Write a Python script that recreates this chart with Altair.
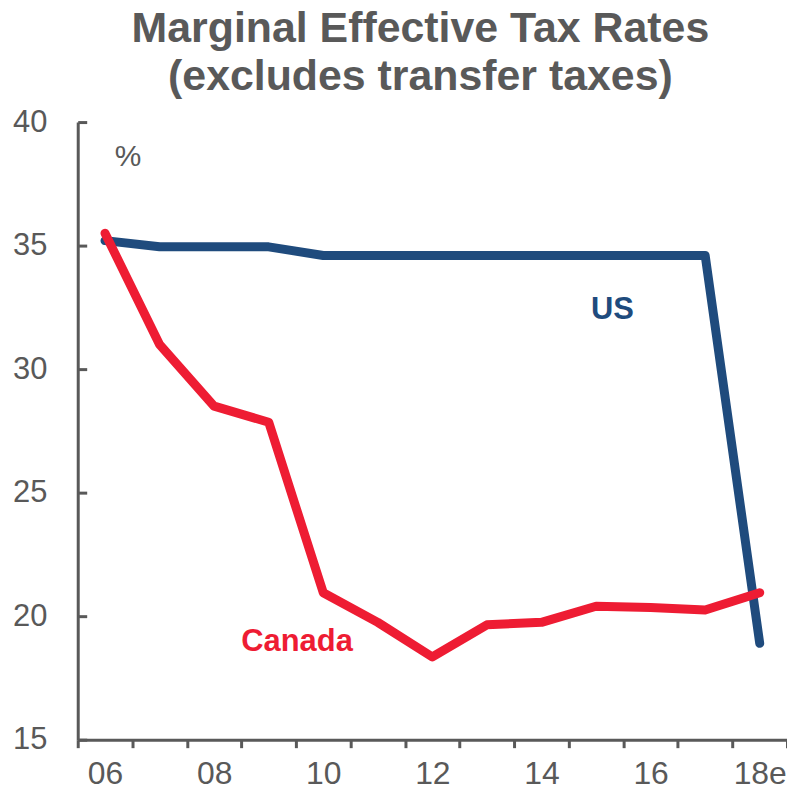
import altair as alt
import pandas as pd

years = [6, 7, 8, 9, 10, 11, 12, 13, 14, 15, 16, 17, 18]
year_labels = ["06", "07", "08", "09", "10", "11", "12", "13", "14", "15", "16", "17", "18e"]
us = [35.2, 34.95, 34.95, 34.95, 34.6, 34.6, 34.6, 34.6, 34.6, 34.6, 34.6, 34.6, 18.9]
canada = [35.5, 31.0, 28.5, 27.85, 20.95, 19.75, 18.35, 19.65, 19.75, 20.4, 20.35, 20.25, 20.95]

series_names = ["US", "Canada"]
series_colors = ["#1F4B7D", "#EE1C33"]

ann_text = ["US", "Canada", "%"]
ann_x = [15.3, 9.52, 6.42]
ann_y = [32.4, 18.95, 38.6]
ann_color = ["#1F4B7D", "#EE1C33", "#595959"]
ann_bold = [True, True, False]

GRAY = "#595959"
FONT = "Liberation Sans"

rows = []
for name, vals in zip(series_names, [us, canada]):
    for y, v in zip(years, vals):
        rows.append({"year": y, "value": v, "series": name})
df = pd.DataFrame(rows)

ann = pd.DataFrame({"text": ann_text, "x": ann_x, "y": ann_y, "color": ann_color, "bold": ann_bold})

shown = [(y, l) for y, l in zip(years, year_labels) if y % 2 == 0]
label_expr = "".join([f"abs(datum.value - {y}) < 0.01 ? '{l}' : " for y, l in shown]) + "''"

tick_vals = [float(y) - 0.5 for y in years] + [float(years[-1]) + 0.5]
label_vals = [float(y) for y, _ in shown]

x_scale = alt.Scale(domain=[years[0] - 0.5, years[-1] + 0.5], nice=False, zero=False)
y_scale = alt.Scale(domain=[15, 40], nice=False, zero=False)

x_axis_ticks = alt.Axis(
    orient="bottom",
    values=tick_vals,
    labels=False,
    title=None,
    grid=False,
    domainColor=GRAY, domainWidth=3,
    tickColor=GRAY, tickWidth=3, tickSize=8,
)
x_axis_labels = alt.Axis(
    orient="bottom",
    values=label_vals,
    labelExpr=label_expr,
    title=None,
    grid=False,
    domain=False,
    ticks=False,
    labelFont=FONT, labelFontSize=32, labelColor=GRAY, labelPadding=19,
    labelFlush=False, labelOverlap=False,
)
y_axis = alt.Axis(
    orient="left",
    values=[15, 20, 25, 30, 35, 40],
    title=None,
    grid=False,
    domainColor=GRAY, domainWidth=3,
    tickColor=GRAY, tickWidth=3, tickSize=alt.expr("-9"),
    labelFont=FONT, labelFontSize=31, labelColor=GRAY, labelPadding=40,
    labelFlush=False, labelOverlap=False,
)

lines = alt.Chart(df).mark_line(strokeWidth=9, strokeCap="round", strokeJoin="round").encode(
    x=alt.X("year:Q", scale=x_scale, axis=x_axis_ticks),
    y=alt.Y("value:Q", scale=y_scale, axis=y_axis),
    color=alt.Color("series:N", scale=alt.Scale(domain=series_names, range=series_colors), legend=None),
    detail="series:N",
)

def text_layer(bold, axis=None):
    return alt.Chart(ann).transform_filter(
        f"datum.bold === {'true' if bold else 'false'}"
    ).mark_text(
        font=FONT, fontSize=31 if bold else 30, align="center", baseline="middle",
        fontWeight="bold" if bold else "normal",
    ).encode(
        x=alt.X("x:Q", scale=x_scale, axis=axis),
        y=alt.Y("y:Q", scale=y_scale, axis=y_axis),
        text="text:N",
        color=alt.Color("color:N", scale=None),
    )

chart = alt.layer(lines, text_layer(True, x_axis_labels), text_layer(False)).resolve_axis(
    x="independent"
).properties(
    width=712,
    height=620,
    autosize=alt.AutoSizeParams(type="none"),
    padding={"left": 70, "top": 113, "right": 0, "bottom": 50},
    title=alt.TitleParams(
        text=["Marginal Effective Tax Rates", "(excludes transfer taxes)"],
        font=FONT, fontSize=43, fontWeight="bold", color=GRAY,
        anchor="middle", frame="group", dx=-12, offset=7, lineHeight=48,
    ),
).configure_view(stroke=None)

chart.save("out.html", embed_options={"renderer": "svg", "actions": False})
